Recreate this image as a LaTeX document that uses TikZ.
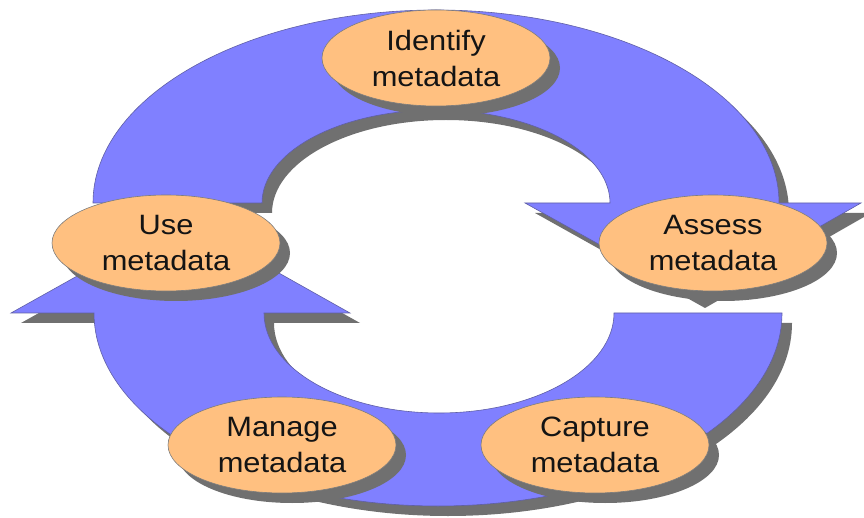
\documentclass[tikz,border=0pt]{standalone}
\usepackage{fontspec}
\setmainfont[FakeStretch=1.1]{Liberation Sans}
\usetikzlibrary{shapes.geometric}
\definecolor{arrowblue}{RGB}{128,128,255}
\definecolor{arrowline}{RGB}{95,95,165}
\definecolor{nodefill}{RGB}{255,192,128}
\definecolor{nodeline}{RGB}{125,125,125}
\definecolor{shadowgray}{RGB}{112,112,112}
\definecolor{textcol}{RGB}{20,20,20}
\begin{document}
\begin{tikzpicture}[x=1pt,y=-1pt,
  shadowed/.style={preaction={fill=shadowgray, draw=none, transform canvas={shift={(10pt,-10pt)}}}},
  band/.style={shadowed, fill=arrowblue, draw=arrowline, line width=0.6pt, line join=miter},
  stage/.style={ellipse, shadowed, fill=nodefill, draw=nodeline, line width=0.6pt,
    minimum width=228pt, minimum height=96pt, inner sep=0pt, align=center,
    font=\fontsize{28}{36}\selectfont, text=textcol}]
\useasboundingbox (0,0) rectangle (864,518);
% upper arrow
\path[band] (93,203) arc[start angle=180, end angle=360, x radius=343, y radius=193]
  -- (861,203) -- (695,298) -- (525,203) -- (610,203)
  arc[start angle=0, end angle=-180, x radius=174, y radius=93] -- cycle;
% lower arrow
\path[band] (614,313) -- (782,313)
  arc[start angle=0, end angle=180, x radius=344, y radius=193]
  -- (11,313) -- (181,218) -- (350,313) -- (264,313)
  arc[start angle=180, end angle=0, x radius=175, y radius=100] -- cycle;
% stages
\node[stage] (identify) at (436,58) {Identify\\metadata};
\node[stage] (assess) at (713,243) {Assess\\metadata};
\node[stage] (use) at (166,243) {Use\\metadata};
\node[stage] (manage) at (282,445) {Manage\\metadata};
\node[stage] (capture) at (595,445) {Capture\\metadata};
\end{tikzpicture}
\end{document}
